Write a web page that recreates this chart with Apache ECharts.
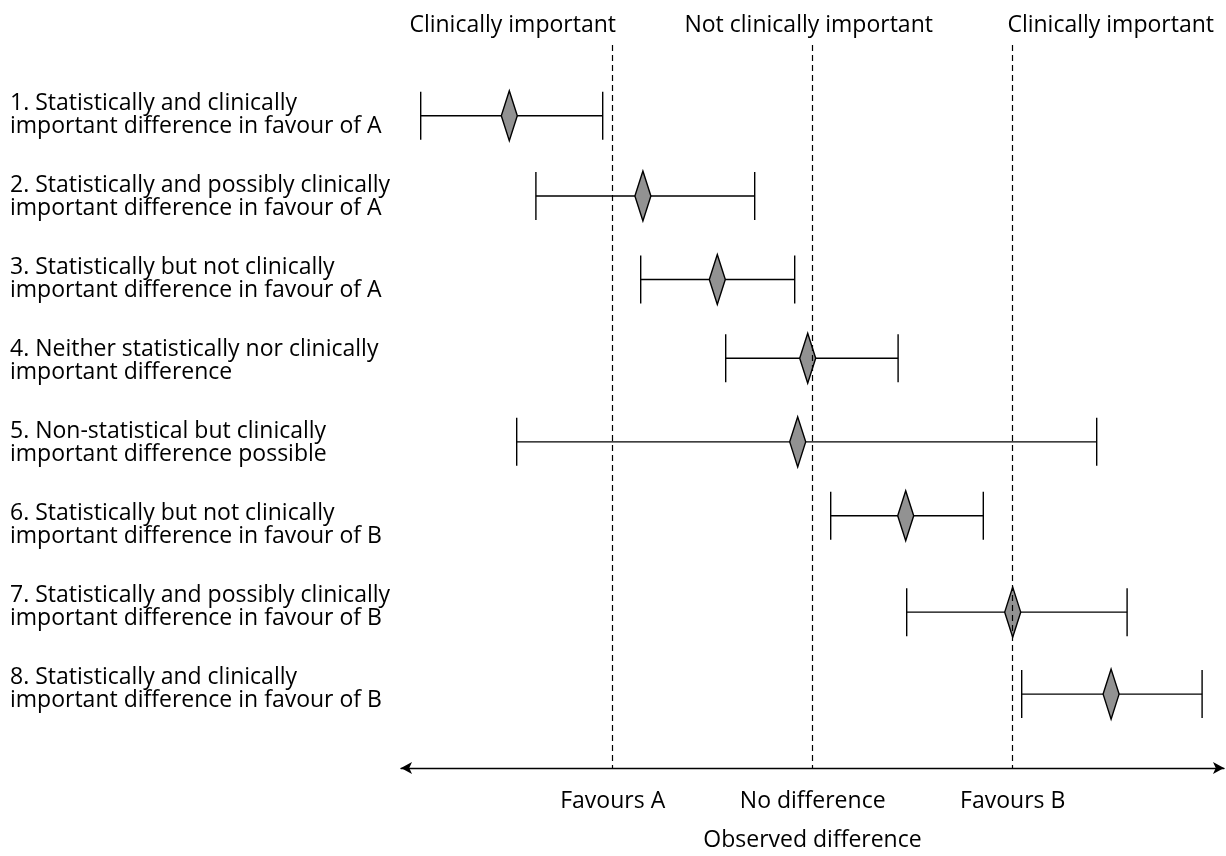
<!DOCTYPE html>
<html>
<head>
<meta charset="utf-8">
<script src="https://cdn.jsdelivr.net/npm/echarts@6/dist/echarts.min.js"></script>
<style>
  html, body { margin: 0; padding: 0; background: #fff; }
  #chart { width: 1226px; height: 856px; }
</style>
</head>
<body>
<div id="chart"></div>
<script>
const rowLabels = [
  '1. Statistically and clinically\nimportant difference in favour of A',
  '2. Statistically and possibly clinically\nimportant difference in favour of A',
  '3. Statistically but not clinically\nimportant difference in favour of A',
  '4. Neither statistically nor clinically\nimportant difference',
  '5. Non-statistical but clinically\nimportant difference possible',
  '6. Statistically but not clinically\nimportant difference in favour of B',
  '7. Statistically and possibly clinically\nimportant difference in favour of B',
  '8. Statistically and clinically\nimportant difference in favour of B'
];
// vertical row position of each interval (rows are not evenly spaced in the source)
const rowPos = [1.0, 2.0, 3.04, 4.02, 5.06, 5.98, 7.18, 8.2];
const lower = [-1.96, -1.384, -0.86, -0.435, -1.48, 0.09, 0.47, 1.045];
const estimate = [-1.517, -0.849, -0.477, -0.025, -0.075, 0.465, 1.0, 1.492];
const upper = [-1.05, -0.29, -0.09, 0.427, 1.42, 0.853, 1.572, 1.947];

const thresholds = [-1, 0, 1];
const thresholdLabels = ['Favours A', 'No difference', 'Favours B'];
const headingPos = [-1.5, -0.02, 1.49];
const headings = ['Clinically important', 'Not clinically important', 'Clinically important'];

const FONT = '"Open Sans", "Noto Sans", sans-serif';
const FS = 23;

const chart = echarts.init(document.getElementById('chart'));

const intervals = rowPos.map((p, i) => [p, lower[i], estimate[i], upper[i]]);

function renderInterval(params, api) {
  const y = api.value(0);
  const pL = api.coord([api.value(1), y]);
  const pE = api.coord([api.value(2), y]);
  const pH = api.coord([api.value(3), y]);
  const cap = 24;
  const dw = 8, dh = 25;
  const lineStyle = { stroke: '#000', lineWidth: 1.4 };
  return {
    type: 'group',
    children: [
      { type: 'line', shape: { x1: pL[0], y1: pL[1], x2: pH[0], y2: pH[1] }, style: lineStyle },
      { type: 'line', shape: { x1: pL[0], y1: pL[1] - cap, x2: pL[0], y2: pL[1] + cap }, style: lineStyle },
      { type: 'line', shape: { x1: pH[0], y1: pH[1] - cap, x2: pH[0], y2: pH[1] + cap }, style: lineStyle },
      {
        type: 'polygon',
        shape: { points: [[pE[0], pE[1] - dh], [pE[0] + dw, pE[1]], [pE[0], pE[1] + dh], [pE[0] - dw, pE[1]]] },
        style: { fill: '#929292', stroke: '#000', lineWidth: 1.4 }
      }
    ]
  };
}

chart.setOption({
  animation: false,
  textStyle: { fontFamily: FONT },
  grid: [
    { left: 401, right: 2, top: 45, bottom: 88, outerBoundsMode: 'none' },
    { left: 10, width: 1, top: 74, height: 656, outerBoundsMode: 'none' }
  ],
  xAxis: [
    {
      type: 'value',
      gridIndex: 0,
      min: -2.0585,
      max: 2.0565,
      splitLine: { show: false },
      axisLine: {
        show: true,
        symbol: ['arrow', 'arrow'],
        symbolSize: [9, 11],
        lineStyle: { color: '#000', width: 1.4 }
      },
      axisTick: { show: false },
      axisLabel: {
        customValues: thresholds,
        formatter: v => thresholdLabels[thresholds.indexOf(v)],
        color: '#000',
        fontSize: FS,
        fontFamily: FONT,
        margin: 22
      },
      name: 'Observed difference',
      nameLocation: 'middle',
      nameGap: 61,
      nameTextStyle: { color: '#000', fontSize: FS, fontFamily: FONT }
    },
    {
      type: 'value',
      gridIndex: 0,
      position: 'top',
      min: -2.0585,
      max: 2.0565,
      splitLine: { show: false },
      axisLine: { show: false },
      axisTick: { show: false },
      axisLabel: {
        customValues: headingPos,
        formatter: v => headings[headingPos.indexOf(v)],
        color: '#000',
        fontSize: FS,
        fontFamily: FONT,
        margin: 8
      }
    },
    { type: 'value', gridIndex: 1, show: false }
  ],
  yAxis: [
    {
      type: 'value',
      gridIndex: 0,
      inverse: true,
      min: 0.12,
      max: 9.12,
      show: false
    },
    {
      type: 'category',
      gridIndex: 1,
      inverse: true,
      data: rowLabels,
      axisLine: { show: false },
      axisTick: { show: false },
      axisLabel: {
        inside: true,
        align: 'left',
        margin: 0,
        color: '#000',
        fontSize: FS,
        lineHeight: 23,
        fontFamily: FONT
      }
    }
  ],
  series: [
    {
      name: 'thresholds',
      type: 'line',
      xAxisIndex: 0,
      yAxisIndex: 0,
      data: [],
      z: 1,
      markLine: {
        silent: true,
        symbol: ['none', 'none'],
        label: { show: false },
        lineStyle: { color: '#000', type: [6, 4], width: 1.2 },
        data: thresholds.map(v => ({ xAxis: v }))
      }
    },
    {
      name: 'intervals',
      type: 'custom',
      xAxisIndex: 0,
      yAxisIndex: 0,
      z: 3,
      renderItem: renderInterval,
      encode: { x: [1, 2, 3], y: 0 },
      data: intervals
    }
  ]
});
</script>
</body>
</html>
